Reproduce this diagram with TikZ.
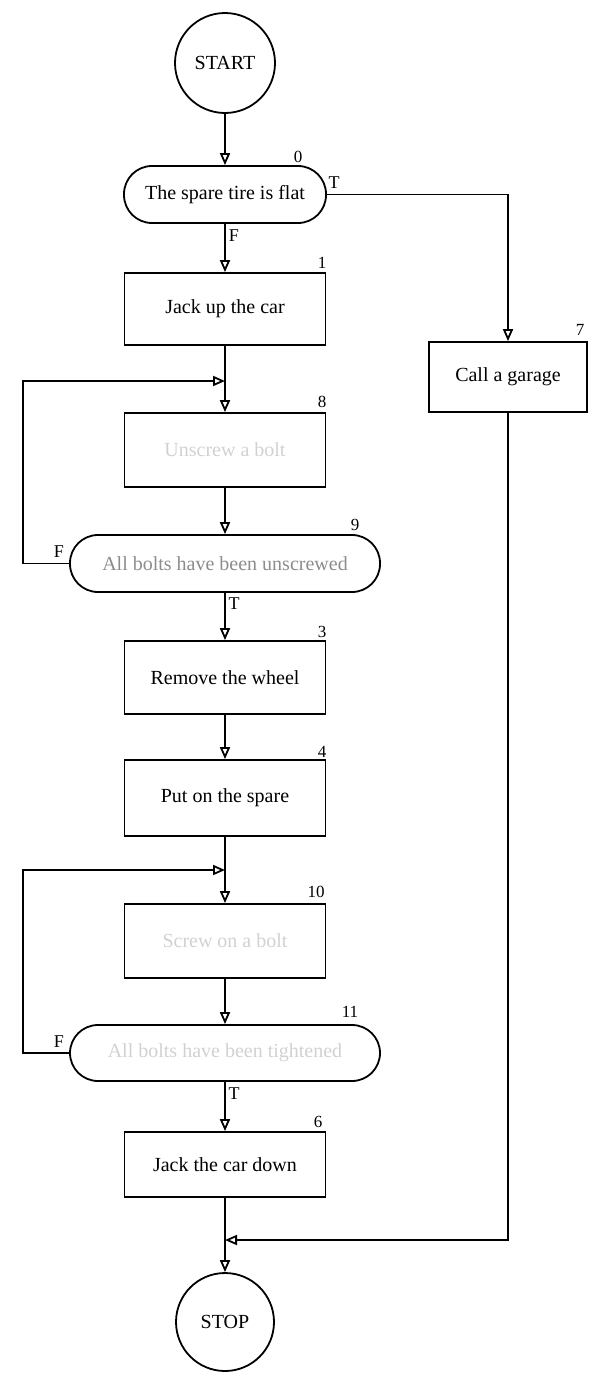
\documentclass[tikz,border=0pt]{standalone}
\usepackage{fontspec}
\setmainfont{Liberation Serif}
\usetikzlibrary{arrows.meta}
\begin{document}
\begin{tikzpicture}[x=1pt,y=-1pt,
  line width=1.8pt,
  every node/.style={font=\fontsize{20}{23}\selectfont},
  arr/.style={-{Triangle[open,length=12pt,width=10pt]}},
  term/.style={draw,circle,minimum size=100pt,inner sep=0pt},
  proc/.style={draw,rectangle,minimum width=201pt,inner sep=0pt},
  dec/.style={draw,rectangle,rounded corners=28pt,minimum height=57pt,inner sep=0pt},
  num/.style={font=\fontsize{17}{19}\selectfont,inner sep=0pt},
  tf/.style={font=\fontsize{18}{20}\selectfont,inner sep=0pt},
  faded/.style={text=black!18},
  halffaded/.style={text=black!45}
]
\useasboundingbox (0,0) rectangle (592,1376);

\node[term] (start) at (225,63) {START};
\node[dec,minimum width=202pt] (d0) at (225,194.5) {The spare tire is flat};
\node[proc,minimum height=72pt] (b1) at (225,309) {Jack up the car};
\node[proc,minimum width=158pt,minimum height=70pt] (b7) at (508,377) {Call a garage};
\node[proc,minimum height=74pt,faded] (b8) at (225,450) {Unscrew a bolt};
\node[dec,minimum width=310pt,halffaded] (d9) at (225,563.5) {All bolts have been unscrewed};
\node[proc,minimum height=73pt] (b3) at (225,677.5) {Remove the wheel};
\node[proc,minimum height=76pt] (b4) at (225,798) {Put on the spare};
\node[proc,minimum height=74pt,faded] (b10) at (225,941) {Screw on a bolt};
\node[dec,minimum width=310pt,minimum height=56pt,faded] (d11) at (225,1053) {All bolts have been tightened};
\node[proc,minimum height=65pt] (b6) at (225,1164.5) {Jack the car down};
\node[term,minimum size=98pt] (stop) at (225,1322) {STOP};

% number labels
\node[num] (n0) at (298,157) {0};
\node[num] (n1) at (322,263) {1};
\node[num] (n7) at (580,330) {7};
\node[num] (n8) at (322,402) {8};
\node[num] (n9) at (355,525) {9};
\node[num] (n3) at (322,632) {3};
\node[num] (n4) at (322,752) {4};
\node[num] (n10) at (316,892) {10};
\node[num] (n11) at (350,1012) {11};
\node[num] (n6) at (318,1122) {6};

% junctions
\coordinate (j1) at (225,381);
\coordinate (j2) at (225,870);
\coordinate (j3) at (225,1240);
\coordinate (l9) at (23,563.5);
\coordinate (l11) at (23,1053);

% connectors
\draw[arr] (start) -- (d0);
\draw[arr] (d0) -- (b1);
\draw[arr] (d0.east) -| (b7.north);
\draw (b1) -- (j1);
\draw[arr] (j1) -- (b8);
\draw[arr] (b8) -- (d9);
\draw[arr] (d9.west) -- (l9) |- (j1);
\draw[arr] (d9) -- (b3);
\draw[arr] (b3) -- (b4);
\draw (b4) -- (j2);
\draw[arr] (j2) -- (b10);
\draw[arr] (b10) -- (d11);
\draw[arr] (d11.west) -- (l11) |- (j2);
\draw[arr] (d11) -- (b6);
\draw[arr] (b6) -- (stop);
\draw[arr] (b7.south) |- (j3);

% T/F labels
\node[tf] (t0) at (334,183) {T};
\node[tf] (f0) at (234,236) {F};
\node[tf] (f9) at (59,552) {F};
\node[tf] (t9) at (234,604) {T};
\node[tf] (f11) at (59,1042) {F};
\node[tf] (t11) at (234,1094) {T};
\end{tikzpicture}
\end{document}
